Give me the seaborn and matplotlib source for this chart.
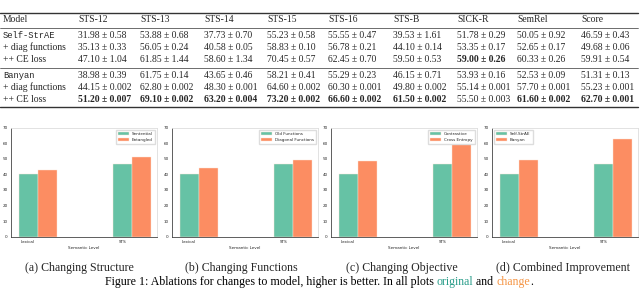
import matplotlib
matplotlib.use("Agg")
import matplotlib.pyplot as plt
from matplotlib.lines import Line2D
import seaborn as sns
import pandas as pd

# table data
columns = ["STS-12", "STS-13", "STS-14", "STS-15", "STS-16", "STS-B", "SICK-R", "SemRel", "Score"]
row_names = ["Self-StrAE", "+ diag functions", "++ CE loss", "Banyan", "+ diag functions", "++ CE loss"]
row_mono = [True, False, False, True, False, False]
table_rows = [
    ["31.98 ± 0.58", "53.88 ± 0.68", "37.73 ± 0.70", "55.23 ± 0.58", "55.55 ± 0.47", "39.53 ± 1.61", "51.78 ± 0.29", "50.05 ± 0.92", "46.59 ± 0.43"],
    ["35.13 ± 0.33", "56.05 ± 0.24", "40.58 ± 0.05", "58.83 ± 0.10", "56.78 ± 0.21", "44.10 ± 0.14", "53.35 ± 0.17", "52.65 ± 0.17", "49.68 ± 0.06"],
    ["47.10 ± 1.04", "61.85 ± 1.44", "58.60 ± 1.34", "70.45 ± 0.57", "62.45 ± 0.70", "59.50 ± 0.53", "59.00 ± 0.26", "60.33 ± 0.26", "59.91 ± 0.54"],
    ["38.98 ± 0.39", "61.75 ± 0.14", "43.65 ± 0.46", "58.21 ± 0.41", "55.29 ± 0.23", "46.15 ± 0.71", "53.93 ± 0.16", "52.53 ± 0.09", "51.31 ± 0.13"],
    ["44.15 ± 0.002", "62.80 ± 0.002", "48.30 ± 0.001", "64.60 ± 0.002", "60.30 ± 0.001", "49.80 ± 0.002", "55.14 ± 0.001", "57.70 ± 0.001", "55.23 ± 0.001"],
    ["51.20 ± 0.007", "69.10 ± 0.002", "63.20 ± 0.004", "73.20 ± 0.002", "66.60 ± 0.002", "61.50 ± 0.002", "55.50 ± 0.003", "61.60 ± 0.002", "62.70 ± 0.001"],
]
bold_cells = [(2, 6), (5, 0), (5, 1), (5, 2), (5, 3), (5, 4), (5, 5), (5, 7), (5, 8)]

# bar chart data
levels = ["Lexical", "STS"]
panel_titles = ["(a) Changing Structure", "(b) Changing Functions", "(c) Changing Objective", "(d) Combined Improvement"]
panel_labels = [("Sentential", "Entangled"), ("Old Functions", "Diagonal Functions"),
                ("Contrastive", "Cross Entropy"), ("Self-StrAE", "Banyan")]
original_scores = [[40.2, 46.5], [40.2, 46.5], [40.2, 46.5], [40.2, 46.5]]
changed_scores = [[43.0, 51.2], [44.0, 49.5], [48.4, 60.2], [49.5, 62.5]]
legend_locs = ["upper right", "upper right", "upper right", "upper left"]

W, H = 640, 288
sns.set_theme(style="white")
plt.rcParams["font.family"] = ["DejaVu Sans"]
serif = ["Liberation Serif", "DejaVu Serif"]
mono = ["Liberation Mono", "DejaVu Sans Mono"]

fig = plt.figure(figsize=(6.4, 2.88), dpi=100)

def fx(px):
    return px / W

def fy(py):
    return 1 - py / H

# table
col_x = [78, 140, 204, 267, 328, 393, 457, 517, 581]
row_y = [36, 47.5, 59, 76, 87.5, 99]
fs = 6.9
fig.text(fx(3), fy(20), "Model", family=serif, fontsize=fs, va="center")
for x, c in zip(col_x, columns):
    fig.text(fx(x), fy(20), c, family=serif, fontsize=fs, va="center")
for i, (name, is_mono) in enumerate(zip(row_names, row_mono)):
    fig.text(fx(3), fy(row_y[i]), name, family=mono if is_mono else serif,
             fontsize=fs - 0.6 if is_mono else fs, va="center")
    for j, val in enumerate(table_rows[i]):
        fig.text(fx(col_x[j]), fy(row_y[i]), val, family=serif, fontsize=fs, va="center",
                 weight="bold" if (i, j) in bold_cells else "normal")
for y, lw in [(12.7, 1.0), (27.5, 0.5), (68, 0.5), (107, 1.0)]:
    fig.add_artist(Line2D([fx(0), fx(638)], [fy(y), fy(y)], color="#333333", lw=lw))

# bar charts
ax_lefts = [11, 172, 331, 492]
ax_w = 146
for k in range(4):
    ax = fig.add_axes([fx(ax_lefts[k]), fy(236.7), ax_w / W, 109 / H])
    df = pd.DataFrame({
        "level": levels * 2,
        "setting": [panel_labels[k][0]] * 2 + [panel_labels[k][1]] * 2,
        "score": original_scores[k] + changed_scores[k],
    })
    sns.barplot(data=df, x="level", y="score", hue="setting", palette=["#66c2a5", "#fc8d62"],
                width=0.4, saturation=1, ax=ax, edgecolor="#fde6d8", linewidth=0.3)
    ax.set_ylim(0, 70)
    ax.set_xlim(-0.28, 1.26)
    ax.set_yticks(range(0, 80, 10))
    ax.set_xticks([-0.1, 0.9], levels)
    ax.tick_params(labelsize=3, length=1.5, width=0.4, pad=1)
    ax.set_xlabel("Semantic Level", fontsize=3, labelpad=1.5)
    ax.set_ylabel("")
    ax.spines["left"].set_color("#444444")
    ax.spines["bottom"].set_color("#444444")
    ax.spines["top"].set_color("#dddddd")
    ax.spines["right"].set_color("#dddddd")
    for s in ax.spines.values():
        s.set_linewidth(0.6)
    ax.legend(title=None, loc=legend_locs[k], fontsize=3, handlelength=2.5, handleheight=0.9,
              borderpad=0.5, labelspacing=0.4, framealpha=1, edgecolor="#dddddd", fancybox=False)
    fig.text(fx([79, 241, 402, 563][k]), fy(267.5), panel_titles[k], family=serif,
             fontsize=8.6, ha="center", va="center")

# figure caption with coloured words
pieces = [("Figure 1: Ablations for changes to model, higher is better. In all plots ", "black"),
          ("original", "#2a9d8a"), (" and ", "black"), ("change", "#f59545"), (".", "black")]
renderer = fig.canvas.get_renderer()
texts = [fig.text(0, fy(282), s, family=serif, fontsize=8.6, color=c, va="center") for s, c in pieces]
widths = [t.get_window_extent(renderer=renderer).width for t in texts]
x = 319 - sum(widths) / 2
for t, w in zip(texts, widths):
    t.set_x(fx(x))
    x += w

fig.savefig("out.png", dpi=100)
